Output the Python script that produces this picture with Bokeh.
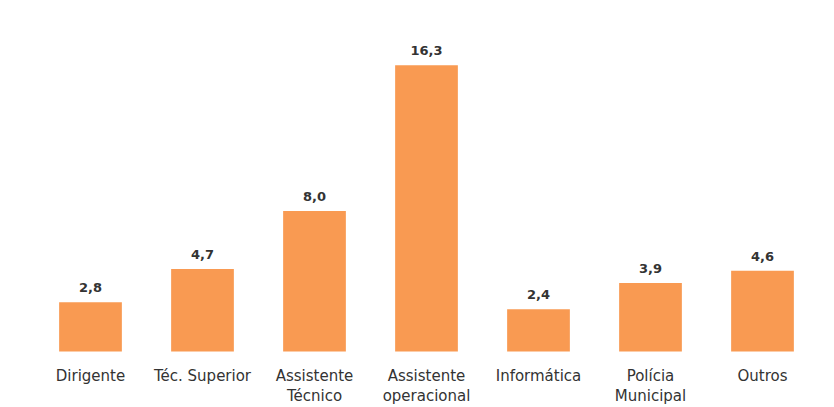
from bokeh.plotting import figure
from bokeh.models import ColumnDataSource, LabelSet, Range1d
from bokeh.core.properties import value
from bokeh.embed import file_html
from bokeh.resources import INLINE

# Categories and values (%)
categories = ["Dirigente", "Téc. Superior", "Assistente Técnico", "Assistente operacional",
              "Informática", "Polícia Municipal", "Outros"]
label_line1 = ["Dirigente", "Téc. Superior", "Assistente", "Assistente",
               "Informática", "Polícia", "Outros"]
label_line2 = ["", "", "Técnico", "operacional", "", "Municipal", ""]
values = [2.8, 4.7, 8.0, 16.3, 2.4, 3.9, 4.6]

BAR_COLOR = "#F99A52"
TEXT_COLOR = "#333333"
FONT = "DejaVu Sans"

source = ColumnDataSource(data=dict(
    cat=categories,
    val=values,
    zero=[0] * len(values),
    lbl=[f"{v:.1f}".replace(".", ",") for v in values],
    l1=label_line1,
    l2=label_line2,
))

p = figure(
    x_range=categories,
    width=834, height=407,
    output_backend="svg", toolbar_location=None,
    min_border_left=34, min_border_right=16,
    min_border_top=35, min_border_bottom=0,
)
# the range reaches below zero so the category labels sit inside the frame
p.y_range = Range1d(-3.19, 18)

p.vbar(x="cat", top="val", bottom=0, width=0.56, source=source,
       fill_color=BAR_COLOR, line_color=None)

# value labels above the bars
p.add_layout(LabelSet(x="cat", y="val", text="lbl", source=source,
                      text_align="center", text_baseline="bottom", y_offset=10,
                      text_font=value(FONT), text_font_size=value("13px"),
                      text_font_style=value("bold"), text_color=value(TEXT_COLOR)))

# two-line category labels under the bars
for col, off in (("l1", -16), ("l2", -36)):
    p.add_layout(LabelSet(x="cat", y="zero", text=col, source=source,
                          text_align="center", text_baseline="top", y_offset=off,
                          text_font=value(FONT), text_font_size=value("15px"),
                          text_color=value(TEXT_COLOR)))

p.xaxis.visible = False
p.yaxis.visible = False
p.xgrid.grid_line_color = None
p.ygrid.grid_line_color = None
p.outline_line_color = None
p.background_fill_color = "white"
p.border_fill_color = "white"

open("out.html", "w").write(file_html(p, INLINE))
